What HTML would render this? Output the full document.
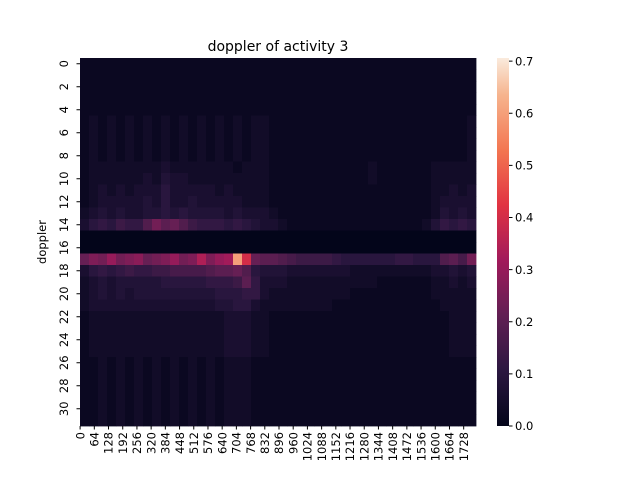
<!DOCTYPE html>
<html><head><meta charset="utf-8"><style>
body{margin:0;background:#fff;}
svg{display:block;font-family:"DejaVu Sans","Liberation Sans",sans-serif;}
</style></head><body>
<svg id="chart" width="640" height="480">
<text x="278" y="51" font-size="14" text-anchor="middle">doppler of activity 3</text>
<text transform="translate(46,242) rotate(-90)" font-size="11.5" text-anchor="middle">doppler</text>
<text x="278" y="489" font-size="11.5" text-anchor="middle">time</text>
<g id="cells"></g>
<g id="yticks"></g>
<g id="xticks"></g>
<defs><linearGradient id="cg" x1="0" y1="1" x2="0" y2="0">
<stop offset="0" stop-color="#03051a"/><stop offset="0.15" stop-color="#2b1740"/><stop offset="0.3" stop-color="#611f53"/><stop offset="0.45" stop-color="#a11a5b"/><stop offset="0.6" stop-color="#e13342"/><stop offset="0.75" stop-color="#f37651"/><stop offset="0.9" stop-color="#f6b48e"/><stop offset="1" stop-color="#faebdd"/>
</linearGradient></defs>
<rect x="497" y="58" width="12" height="368" fill="url(#cg)"/>
<g id="cbticks"></g>
</svg>
<script>
const numCols = 1784;
const numBins = 44;
const rowLabels = [0,2,4,6,8,10,12,14,16,18,20,22,24,26,28,30];
const colLabels = [0,64,128,192,256,320,384,448,512,576,640,704,768,832,896,960,1024,1088,1152,1216,1280,1344,1408,1472,1536,1600,1664,1728];
const cbTicks = [0,0.1,0.2,0.3,0.4,0.5,0.6,0.7];
const vmax = 0.706;
const valueStep = 0.02;
// each row: 44 column bins (4 groups of 11), base-36 digit * valueStep
const rows = [
"11111111111"+"11111111111"+"11111111111"+"11111111111",
"11111111111"+"11111111111"+"11111111111"+"11111111111",
"11111111111"+"11111111111"+"11111111111"+"11111111111",
"11111111111"+"11111111111"+"11111111111"+"11111111111",
"11111111111"+"11111111111"+"11111111111"+"11111111111",
"12121212121"+"21212121221"+"11111111111"+"11111111112",
"12121212121"+"21212121221"+"11111111111"+"11111111112",
"12121212121"+"21212121221"+"11111111111"+"11111111112",
"12121212121"+"21212121221"+"11111111111"+"11111111112",
"12222222232"+"22222212221"+"11111111112"+"11111122222",
"12222223243"+"32222222221"+"11111111112"+"11111122222",
"12323233353"+"33332322221"+"11111111111"+"11111122323",
"12333334353"+"34333332221"+"11111111111"+"11111123333",
"23434334454"+"54444343332"+"11111111111"+"11111124343",
"35657669cab"+"97666565433"+"21111111111"+"11111246565",
"00000000000"+"00000000000"+"00000000000"+"00000000000",
"00000000000"+"00000000000"+"00000000000"+"00000000000",
"bdcfcdebcdf"+"cdhdfgukbaa"+"98777765555"+"55665559a8c",
"35656766778"+"8889aab9544"+"43333333222"+"22222233434",
"23434444455"+"5556667a633"+"32222222222"+"11111122323",
"23434344444"+"44445556632"+"22222222111"+"11111122222",
"23333333333"+"33334455322"+"22222211111"+"11111112222",
"12222222222"+"22222333221"+"11111111111"+"11111111222",
"12222222222"+"22222333221"+"11111111111"+"11111111222",
"12222222222"+"22222333221"+"11111111111"+"11111111222",
"12222222222"+"22222333221"+"11111111111"+"11111111222",
"11212121212"+"12121222111"+"11111111111"+"11111111111",
"11212121212"+"12121222111"+"11111111111"+"11111111111",
"11212121212"+"12121222111"+"11111111111"+"11111111111",
"11212121212"+"12121222111"+"11111111111"+"11111111111",
"11212121212"+"12121222111"+"11111111111"+"11111111111",
"11212121212"+"12121222111"+"11111111111"+"11111111111"
];
const X0=80, X1=476, Y0=58, Y1=426, NS="http://www.w3.org/2000/svg";
const xScale = c => X0 + (c/numCols)*(X1-X0);
const yScale = r => Y0 + (r/rows.length)*(Y1-Y0);
const cbScale = v => Y1 - (v/vmax)*(Y1-Y0);
const stops=[[0,[3,5,26]],[0.15,[43,23,64]],[0.3,[97,31,83]],[0.45,[161,26,91]],[0.6,[225,51,66]],[0.75,[243,118,81]],[0.9,[246,180,142]],[1,[250,235,221]]];
function cmap(v){let t=Math.max(0,Math.min(1,v/vmax));for(let i=1;i<stops.length;i++){if(t<=stops[i][0]){const a=stops[i-1],b=stops[i],f=(t-a[0])/(b[0]-a[0]);return 'rgb('+a[1].map((c,k)=>Math.round(c+f*(b[1][k]-c))).join(',')+')';}}return 'rgb(250,235,221)';}
const cells=document.getElementById('cells');
rows.forEach((s,r)=>{for(let b=0;b<numBins;b++){const ch=s[b]||'0';const v=parseInt(ch,36)*valueStep;const x=xScale(b*numCols/numBins),x2=xScale((b+1)*numCols/numBins);
const el=document.createElementNS(NS,'rect');
el.setAttribute('x',x);el.setAttribute('y',yScale(r));el.setAttribute('width',x2-x+0.4);el.setAttribute('height',yScale(r+1)-yScale(r)+0.4);el.setAttribute('fill',cmap(v));


cells.appendChild(el);}});
const yt=document.getElementById('yticks');
rowLabels.forEach(l=>{const y=yScale(l+0.5);
const ln=document.createElementNS(NS,'line');ln.setAttribute('x1',76.5);ln.setAttribute('x2',80);ln.setAttribute('y1',y);ln.setAttribute('y2',y);ln.setAttribute('stroke','#000');


yt.appendChild(ln);
const t=document.createElementNS(NS,'text');t.setAttribute('transform','translate(68,'+y+') rotate(-90)');t.setAttribute('font-size','11.5');t.setAttribute('text-anchor','middle');t.textContent=l;


yt.appendChild(t);});
const xt=document.getElementById('xticks');
colLabels.forEach(l=>{const x=xScale(l+0.5);
const ln=document.createElementNS(NS,'line');ln.setAttribute('x1',x);ln.setAttribute('x2',x);ln.setAttribute('y1',426);ln.setAttribute('y2',429.5);ln.setAttribute('stroke','#000');


xt.appendChild(ln);
const t=document.createElementNS(NS,'text');t.setAttribute('transform','translate('+(x+4.2)+',432) rotate(-90)');t.setAttribute('font-size','11.5');t.setAttribute('text-anchor','end');t.textContent=l;


xt.appendChild(t);});
const cb=document.getElementById('cbticks');
cbTicks.forEach(v=>{const y=cbScale(v);
const ln=document.createElementNS(NS,'line');ln.setAttribute('x1',509);ln.setAttribute('x2',512.5);ln.setAttribute('y1',y);ln.setAttribute('y2',y);ln.setAttribute('stroke','#000');


cb.appendChild(ln);
const t=document.createElementNS(NS,'text');t.setAttribute('x',515);t.setAttribute('y',y+4.2);t.setAttribute('font-size','11.5');t.textContent=v.toFixed(1);


cb.appendChild(t);});
</script>
</body></html>
